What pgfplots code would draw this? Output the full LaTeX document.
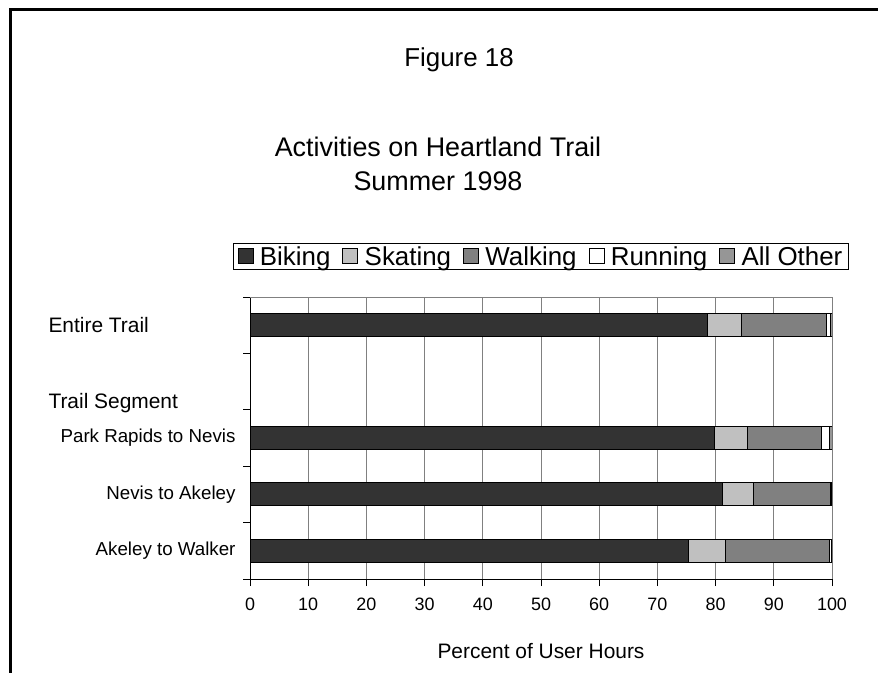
\documentclass[border=0pt]{standalone}
\usepackage{fontspec}
\setmainfont{Liberation Sans}
\usepackage{pgfplots}
\pgfplotsset{compat=1.18}

\definecolor{biking}{HTML}{333333}
\definecolor{skating}{HTML}{C0C0C0}
\definecolor{walking}{HTML}{808080}
\definecolor{other}{HTML}{969696}

\newcommand{\fs}[1]{\fontsize{#1}{#1}\selectfont}

\begin{document}
\begin{tikzpicture}
\path[use as bounding box] (0,0) rectangle (878bp,673bp);
% page frame
\draw[line width=3bp] (10bp,0) -- (10bp,663bp) -- (878bp,663bp);
% titles
\node[font=\fs{26}] at (459bp,613bp) {Figure 18};
\node[font=\fs{27}] at (438bp,526bp) {Activities on Heartland Trail};
\node[font=\fs{27}] at (438bp,492bp) {Summer 1998};

\begin{axis}[
    at={(250bp,94bp)}, anchor=south west,
    scale only axis, width=582bp, height=282bp,
    xbar stacked, bar width=23bp,
    xmin=0, xmax=100, ymin=0.5, ymax=5.5,
    xtick={0,10,...,100},
    xmajorgrids, grid style={gray, line width=1bp},
    axis x line*=bottom, axis y line*=left,
    axis line style={black, line width=1bp, -},
    ytick={1,2,3},
    yticklabels={Akeley to Walker, Nevis to Akeley, Park Rapids to Nevis},
    minor ytick={0.5,1.5,...,5.5},
    major y tick style={draw=none},
    tick align=outside, major tick length=7bp, minor tick length=7bp,
    every tick/.style={black, line width=1bp},
    /pgf/number format/assume math mode=true,
    xticklabel style={font=\fs{18}, yshift=-8bp},
    yticklabel style={font=\fs{18.8}, xshift=-4bp},
    xlabel={Percent of User Hours},
    xlabel style={font=\fs{21}, yshift=-26bp},
    legend style={at={(0.5,1)}, anchor=south, yshift=27bp,
        legend columns=5, draw=black, line width=0.8bp, font=\fs{26},
        inner xsep=4bp, inner ysep=1bp,
        /tikz/every odd column/.append style={column sep=4.5bp},
        /tikz/every even column/.append style={column sep=10bp}},
    legend image code/.code={\draw[#1,draw=black,line width=0.8bp] (0bp,-7bp) rectangle (15bp,8bp);},
    every axis plot/.append style={draw=black, line width=0.9bp},
]
\addplot[fill=biking] coordinates {(78.6,5) (79.8,3) (81.2,2) (75.3,1)};
\addplot[fill=skating] coordinates {(5.9,5) (5.7,3) (5.3,2) (6.4,1)};
\addplot[fill=walking] coordinates {(14.6,5) (12.7,3) (13.3,2) (17.8,1)};
\addplot[fill=white] coordinates {(0.6,5) (1.4,3) (0.1,2) (0.4,1)};
\addplot[fill=other] coordinates {(0.3,5) (0.4,3) (0.1,2) (0.1,1)};
\legend{Biking, Skating, Walking, Running, All Other}
\draw[gray, line width=1bp] (axis cs:0,5.5) -- (axis cs:100,5.5);
\end{axis}

\node[anchor=west, font=\fs{21}] at (45bp,348bp) {Entire Trail};
\node[anchor=west, font=\fs{21}] at (45bp,270bp) {Trail Segment};
\end{tikzpicture}
\end{document}
